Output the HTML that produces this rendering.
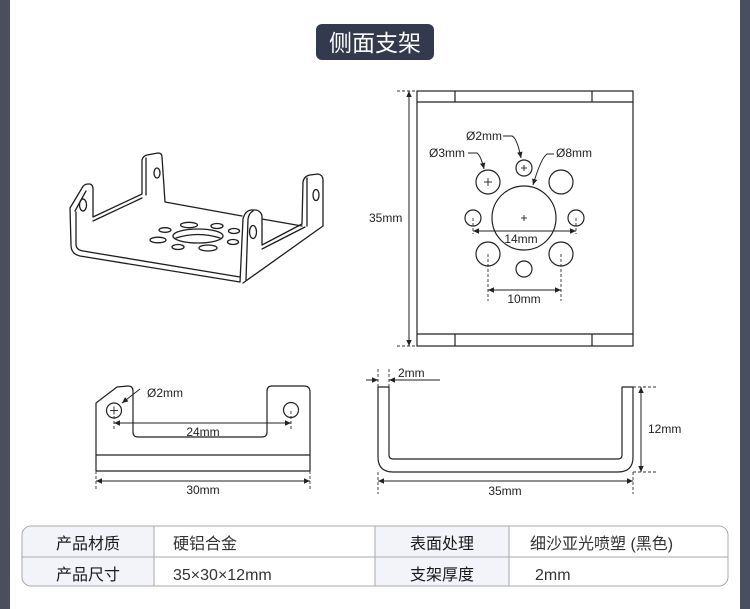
<!DOCTYPE html>
<html><head><meta charset="utf-8"><style>
html,body{margin:0;padding:0;background:#fff;}
svg{display:block;}
text{font-family:"Liberation Sans","Noto Sans CJK SC",sans-serif;}
</style></head><body>
<svg width="750" height="609" viewBox="0 0 750 609" xmlns="http://www.w3.org/2000/svg">
<defs>
<marker id="a" viewBox="0 0 10 10" refX="10" refY="5" markerWidth="7" markerHeight="6" markerUnits="userSpaceOnUse" orient="auto-start-reverse"><path d="M0,0.5 L10,5 L0,9.5 z" fill="#222"/></marker>
<clipPath id="tc"><rect x="22" y="526" width="706" height="60" rx="9"/></clipPath>
</defs>
<rect width="750" height="609" fill="#fff"/>
<rect x="0" y="0" width="10" height="609" fill="#4b4e5f"/>
<rect x="740" y="0" width="10" height="609" fill="#4b4e5f"/>

<!-- title -->
<rect x="316" y="24" width="118" height="36" rx="6" fill="#343a4e"/>
<text x="375" y="51" font-size="23" fill="#fff" text-anchor="middle">侧面支架</text>

<!-- 3D bracket -->
<g stroke="#1e1e1e" stroke-width="1.3" fill="none" stroke-linejoin="round" stroke-linecap="round">
<!-- left outer -->
<path d="M240,282 L80,256 Q71,254 71,245 L70,208 L82,188 Q84,184 88,184 L90,184 Q93,185 93,189 L93,217 L142,194 L142,160 Q143,156 147,155 L158,153 Q162,153 162,157 L165,202 L242,216"/>
<path d="M75,211 L86,191"/>
<path d="M76,212 L76,244 Q76,250 83,251 L240,277"/>
<path d="M93,221 L142,198"/>
<path d="M146,158 L146,195"/>
<!-- floor back edge to right wall -->
<path d="M262,219 L302,226"/>
<!-- right side -->
<path d="M240,282 L243,219 Q245,211 251,210 L256,210 Q261,211 262,216 L262,245 L302,224 L303,182 Q304,176 310,175 L318,174 Q323,175 323,180 L323,226 L243,283"/>
<path d="M246,280 L248,219 Q249,213 253,211"/>
<path d="M262,249 L305,227"/>
<path d="M307,178 L307,226"/>
<!-- holes tabs -->
<ellipse cx="83" cy="205" rx="3.5" ry="6"/>
<ellipse cx="157" cy="173" rx="3" ry="5"/>
<ellipse cx="253" cy="232" rx="3.5" ry="6.5"/>
<ellipse cx="316" cy="195" rx="3" ry="5.5"/>
<!-- floor holes -->
<ellipse cx="198" cy="236" rx="25" ry="7"/>
<path d="M176,238 Q198,231 220,238"/>
<ellipse cx="189" cy="225" rx="8.5" ry="2.7"/>
<ellipse cx="217" cy="226" rx="6" ry="2.5"/>
<ellipse cx="165" cy="230" rx="6" ry="2.3"/>
<ellipse cx="234" cy="231" rx="5.5" ry="2.5"/>
<ellipse cx="158" cy="240" rx="8" ry="2.8"/>
<ellipse cx="178" cy="247" rx="6" ry="2.5"/>
<ellipse cx="208" cy="248" rx="9" ry="3"/>
<ellipse cx="233" cy="242" rx="5.5" ry="2.5"/>
</g>

<!-- top right plate -->
<g stroke="#222" stroke-width="1.2" fill="none">
<rect x="417" y="91" width="216" height="255"/>
<line x1="417" y1="102" x2="633" y2="102"/>
<line x1="417" y1="334" x2="633" y2="334"/>
<line x1="455" y1="91" x2="455" y2="102"/>
<line x1="592" y1="91" x2="592" y2="102"/>
<line x1="455" y1="334" x2="455" y2="346"/>
<line x1="592" y1="334" x2="592" y2="346"/>
<circle cx="524" cy="218" r="32"/>
<circle cx="524" cy="168" r="8"/>
<circle cx="488" cy="182" r="12"/>
<circle cx="561" cy="182" r="12"/>
<circle cx="473" cy="218" r="8"/>
<circle cx="576" cy="218" r="8"/>
<circle cx="488" cy="254" r="12"/>
<circle cx="561" cy="254" r="12"/>
<circle cx="524" cy="269" r="8"/>
</g>
<g stroke="#222" stroke-width="0.9">
<line x1="521" y1="168" x2="527" y2="168"/><line x1="524" y1="165" x2="524" y2="171"/>
<line x1="484" y1="182" x2="492" y2="182"/><line x1="488" y1="178" x2="488" y2="186"/>
<line x1="521" y1="218" x2="527" y2="218"/><line x1="524" y1="215" x2="524" y2="221"/>
</g>
<g stroke="#333" stroke-width="0.9" stroke-dasharray="3,2">
<line x1="397" y1="91" x2="417" y2="91"/>
<line x1="397" y1="346" x2="417" y2="346"/>
<line x1="473" y1="218" x2="473" y2="234"/>
<line x1="576" y1="218" x2="576" y2="234"/>
<line x1="488" y1="254" x2="488" y2="301"/>
<line x1="561" y1="254" x2="561" y2="301"/>
</g>
<g stroke="#222" stroke-width="1" fill="none">
<line x1="409" y1="91" x2="409" y2="346" marker-start="url(#a)" marker-end="url(#a)"/>
<line x1="473" y1="231" x2="576" y2="231" marker-start="url(#a)" marker-end="url(#a)"/>
<line x1="488" y1="290" x2="561" y2="290" marker-start="url(#a)" marker-end="url(#a)"/>
<path d="M503,136 L512,136 Q517,138 521,158" marker-end="url(#a)"/>
<path d="M468,153 L477,153 Q481,156 484,169" marker-end="url(#a)"/>
<path d="M554,154 L547,154 Q541,158 533,185" marker-end="url(#a)"/>
</g>
<g font-size="12" fill="#222">
<text x="369" y="222">35mm</text>
<text x="466" y="140">Ø2mm</text>
<text x="429" y="157">Ø3mm</text>
<text x="556" y="157">Ø8mm</text>
<text x="521" y="243" text-anchor="middle">14mm</text>
<text x="524" y="303" text-anchor="middle">10mm</text>
</g>

<!-- bottom left -->
<g stroke="#222" stroke-width="1.2" fill="none" stroke-linejoin="round">
<path d="M96,471 L96,403 L117,387 L128,386 Q133,386 133,391 L133,432 Q133,437 138,437 L262,437 Q267,437 267,432 L267,391 Q267,386 272,386 L304,386 Q310,386 310,392 L310,471 Z"/>
<line x1="96" y1="455" x2="310" y2="455"/>
<circle cx="114" cy="410.5" r="7.5"/>
<circle cx="291" cy="410" r="7.5"/>
</g>
<g stroke="#222" stroke-width="0.9">
<line x1="110" y1="410.5" x2="118" y2="410.5"/><line x1="114" y1="406.5" x2="114" y2="414.5"/>
</g>
<g stroke="#333" stroke-width="0.9" stroke-dasharray="3,2">
<line x1="114" y1="411" x2="114" y2="429"/>
<line x1="291" y1="411" x2="291" y2="429"/>
<line x1="96" y1="471" x2="96" y2="489"/>
<line x1="310" y1="471" x2="310" y2="489"/>
</g>
<g stroke="#222" stroke-width="1" fill="none">
<line x1="114" y1="423" x2="291" y2="423" marker-start="url(#a)" marker-end="url(#a)"/>
<line x1="96" y1="481" x2="310" y2="481" marker-start="url(#a)" marker-end="url(#a)"/>
<line x1="140" y1="389" x2="122" y2="403" marker-end="url(#a)"/>
</g>
<g font-size="12" fill="#222">
<text x="147" y="397">Ø2mm</text>
<text x="203" y="436" text-anchor="middle">24mm</text>
<text x="203" y="494" text-anchor="middle">30mm</text>
</g>

<!-- bottom right U -->
<g stroke="#222" stroke-width="1.2" fill="none" stroke-linejoin="round">
<path d="M378,387 L378,457 Q378,472 393,472 L618,472 Q633,472 633,457 L633,387 L622,387 L622,455 Q622,459 618,459 L393,459 Q389,459 389,455 L389,387 Z"/>
</g>
<g stroke="#333" stroke-width="0.9" stroke-dasharray="3,2">
<line x1="378" y1="369" x2="378" y2="387"/>
<line x1="389" y1="369" x2="389" y2="387"/>
<line x1="378" y1="472" x2="378" y2="494"/>
<line x1="633" y1="472" x2="633" y2="494"/>
<line x1="633" y1="387" x2="656" y2="387"/>
<line x1="633" y1="472" x2="656" y2="472"/>
</g>
<g stroke="#222" stroke-width="1" fill="none">
<line x1="366" y1="380" x2="378" y2="380" marker-end="url(#a)"/>
<line x1="440" y1="380" x2="389" y2="380" marker-end="url(#a)"/>
<line x1="641" y1="387" x2="641" y2="472" marker-start="url(#a)" marker-end="url(#a)"/>
<line x1="378" y1="481" x2="633" y2="481" marker-start="url(#a)" marker-end="url(#a)"/>
</g>
<g font-size="12" fill="#222">
<text x="398" y="377">2mm</text>
<text x="648" y="433">12mm</text>
<text x="505" y="495" text-anchor="middle">35mm</text>
</g>

<!-- table -->
<g clip-path="url(#tc)">
<rect x="22" y="526" width="132" height="60" fill="#f3f4f9"/>
<rect x="375" y="526" width="134" height="60" fill="#f3f4f9"/>
</g>
<rect x="22" y="526" width="706" height="60" rx="9" fill="none" stroke="#a9a9ad" stroke-width="1"/>
<g stroke="#a9a9ad" stroke-width="1">
<line x1="22" y1="557" x2="728" y2="557"/>
<line x1="154" y1="526" x2="154" y2="586"/>
<line x1="375" y1="526" x2="375" y2="586"/>
<line x1="509" y1="526" x2="509" y2="586"/>
</g>
<g font-size="16">
<text x="88" y="549" text-anchor="middle" fill="#1a1a1a">产品材质</text>
<text x="88" y="580" text-anchor="middle" fill="#1a1a1a">产品尺寸</text>
<text x="442" y="549" text-anchor="middle" fill="#1a1a1a">表面处理</text>
<text x="442" y="580" text-anchor="middle" fill="#1a1a1a">支架厚度</text>
<text x="173" y="549" fill="#333">硬铝合金</text>
<text x="173" y="580" fill="#333">35×30×12mm</text>
<text x="530" y="549" fill="#333">细沙亚光喷塑 (黑色)</text>
<text x="535" y="580" fill="#333">2mm</text>
</g>
</svg>
</body></html>
